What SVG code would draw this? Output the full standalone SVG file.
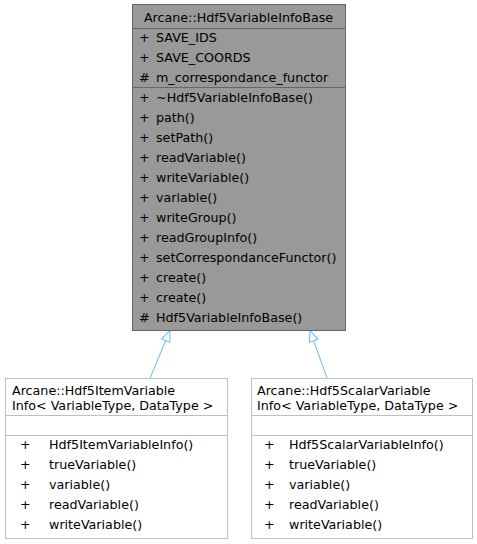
<svg xmlns="http://www.w3.org/2000/svg" width="477" height="544" viewBox="0 0 477 544">
<defs>
<style>
text{font-family:"DejaVu Sans","Liberation Sans",sans-serif;font-size:12.7px;fill:#000}
.base rect{fill:#999999;stroke:#666666;stroke-width:1}
.base line{stroke:#666666;stroke-width:1}
.sub rect{fill:#ffffff;stroke:#bfbfbf;stroke-width:1}
.sub line{stroke:#bfbfbf;stroke-width:1}
.edge{stroke:#63b8ff;stroke-width:1;fill:none}
</style>
<marker id="inh" viewBox="0 0 12 10" refX="11.5" refY="5" markerWidth="12" markerHeight="10" markerUnits="userSpaceOnUse" orient="auto">
<path d="M0.5,0.5 L11.5,5 L0.5,9.5 Z" fill="#ffffff" stroke="#63b8ff" stroke-width="1"/>
</marker>
</defs>
<rect width="477" height="544" fill="#ffffff"/>
<g id="connectors">
<line class="edge" x1="150" y1="378" x2="170" y2="330.5" marker-end="url(#inh)"/>
<line class="edge" x1="327" y1="378" x2="310" y2="330.5" marker-end="url(#inh)"/>
</g>
<g id="node-base" class="base">
<rect x="132.5" y="4.5" width="213" height="326"/>
<line x1="132.5" y1="28.5" x2="345.5" y2="28.5"/>
<line x1="132.5" y1="87.5" x2="345.5" y2="87.5"/>
<text x="238.5" y="21.5" text-anchor="middle">Arcane::Hdf5VariableInfoBase</text>
<text x="139" y="41.5">+</text><text x="156" y="41.5">SAVE_IDS</text>
<text x="139" y="61.5">+</text><text x="156" y="61.5">SAVE_COORDS</text>
<text x="139" y="81.5">#</text><text x="156" y="81.5">m_correspondance_functor</text>
<text x="139" y="101.5">+</text><text x="156" y="101.5">~Hdf5VariableInfoBase()</text>
<text x="139" y="121.5">+</text><text x="156" y="121.5">path()</text>
<text x="139" y="141.5">+</text><text x="156" y="141.5">setPath()</text>
<text x="139" y="161.5">+</text><text x="156" y="161.5">readVariable()</text>
<text x="139" y="181.5">+</text><text x="156" y="181.5">writeVariable()</text>
<text x="139" y="201.5">+</text><text x="156" y="201.5">variable()</text>
<text x="139" y="221.5">+</text><text x="156" y="221.5">writeGroup()</text>
<text x="139" y="241.5">+</text><text x="156" y="241.5">readGroupInfo()</text>
<text x="139" y="261.5">+</text><text x="156" y="261.5">setCorrespondanceFunctor()</text>
<text x="139" y="281.5">+</text><text x="156" y="281.5">create()</text>
<text x="139" y="301.5">+</text><text x="156" y="301.5">create()</text>
<text x="139" y="321.5">#</text><text x="156" y="321.5">Hdf5VariableInfoBase()</text>
</g>
<g id="node-item" class="sub">
<rect x="5.5" y="378.5" width="222" height="160"/>
<line x1="5.5" y1="415.5" x2="227.5" y2="415.5"/>
<line x1="5.5" y1="435.5" x2="227.5" y2="435.5"/>
<text x="12" y="394.5">Arcane::Hdf5ItemVariable</text>
<text x="12" y="409.5">Info&lt; VariableType, DataType &gt;</text>
<text x="20" y="449">+</text><text x="49" y="449">Hdf5ItemVariableInfo()</text>
<text x="20" y="469">+</text><text x="49" y="469">trueVariable()</text>
<text x="20" y="489">+</text><text x="49" y="489">variable()</text>
<text x="20" y="509">+</text><text x="49" y="509">readVariable()</text>
<text x="20" y="529">+</text><text x="49" y="529">writeVariable()</text>
</g>
<g id="node-scalar" class="sub">
<rect x="251.5" y="378.5" width="221" height="160"/>
<line x1="251.5" y1="415.5" x2="472.5" y2="415.5"/>
<line x1="251.5" y1="435.5" x2="472.5" y2="435.5"/>
<text x="257" y="394.5">Arcane::Hdf5ScalarVariable</text>
<text x="257" y="409.5">Info&lt; VariableType, DataType &gt;</text>
<text x="264" y="449">+</text><text x="289" y="449">Hdf5ScalarVariableInfo()</text>
<text x="264" y="469">+</text><text x="289" y="469">trueVariable()</text>
<text x="264" y="489">+</text><text x="289" y="489">variable()</text>
<text x="264" y="509">+</text><text x="289" y="509">readVariable()</text>
<text x="264" y="529">+</text><text x="289" y="529">writeVariable()</text>
</g>
</svg>
